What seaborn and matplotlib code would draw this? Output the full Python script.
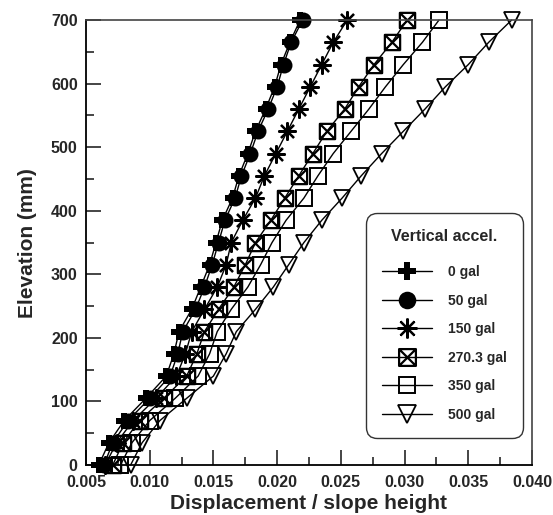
import numpy as np
import pandas as pd

import matplotlib
matplotlib.use('Agg')

from matplotlib import pyplot as plt
from matplotlib.path import Path
from matplotlib.ticker import MultipleLocator
import seaborn as sns

# elevation of each measuring point (mm)
elevation = [0, 35, 70, 105, 140, 175, 210, 245, 280, 315, 350,
             385, 420, 455, 490, 525, 560, 595, 630, 665, 700]

# displacement / slope height for each vertical acceleration
disp_0 = [0.0060, 0.0068, 0.0080, 0.0097, 0.0113, 0.0119, 0.0123, 0.0133, 0.0140, 0.0147, 0.0152,
          0.0157, 0.0165, 0.0170, 0.0177, 0.0183, 0.0191, 0.0198, 0.0203, 0.0210, 0.0218]
disp_50 = [0.0064, 0.0071, 0.0083, 0.0100, 0.0116, 0.0122, 0.0126, 0.0136, 0.0143, 0.0149, 0.0154,
           0.0159, 0.0167, 0.0172, 0.0179, 0.0185, 0.0193, 0.0200, 0.0205, 0.0211, 0.0220]
disp_150 = [0.0065, 0.0074, 0.0087, 0.0105, 0.0121, 0.0128, 0.0133, 0.0143, 0.0153, 0.0160, 0.0164,
            0.0173, 0.0183, 0.0190, 0.0199, 0.0208, 0.0217, 0.0226, 0.0235, 0.0244, 0.0255]
disp_270 = [0.0071, 0.0079, 0.0092, 0.0111, 0.0129, 0.0137, 0.0143, 0.0154, 0.0166, 0.0175, 0.0183,
            0.0195, 0.0206, 0.0217, 0.0228, 0.0239, 0.0253, 0.0264, 0.0276, 0.0290, 0.0302]
disp_350 = [0.0077, 0.0086, 0.0100, 0.0120, 0.0138, 0.0147, 0.0153, 0.0164, 0.0177, 0.0187, 0.0196,
            0.0207, 0.0221, 0.0232, 0.0244, 0.0258, 0.0272, 0.0285, 0.0299, 0.0314, 0.0327]
disp_500 = [0.0085, 0.0094, 0.0108, 0.0129, 0.0150, 0.0160, 0.0168, 0.0183, 0.0197, 0.0209, 0.0221,
            0.0235, 0.0251, 0.0266, 0.0282, 0.0299, 0.0316, 0.0332, 0.0350, 0.0366, 0.0384]

labels = ['0 gal', '50 gal', '150 gal', '270.3 gal', '350 gal', '500 gal']

#==============================================================================

# square with a cross inside
box_x = Path([(-1, -1), (1, -1), (1, 1), (-1, 1), (-1, -1),
              (-1, -1), (1, 1), (-1, 1), (1, -1)],
             [Path.MOVETO, Path.LINETO, Path.LINETO, Path.LINETO, Path.CLOSEPOLY,
              Path.MOVETO, Path.LINETO, Path.MOVETO, Path.LINETO])

styles = [
    dict(marker='P', markersize=12, markerfacecolor='black', markeredgewidth=0),
    dict(marker='o', markersize=11.5, markerfacecolor='black', markeredgewidth=0),
    dict(marker=(8, 2, 0), markersize=13, markeredgewidth=1.6),
    dict(marker=box_x, markersize=11, markerfacecolor='none', markeredgewidth=1.6),
    dict(marker='s', markersize=11, markerfacecolor='none', markeredgewidth=1.4),
    dict(marker='v', markersize=11.5, markerfacecolor='none', markeredgewidth=1.3),
]

sns.set_style('ticks')
plt.rcParams['font.family'] = ['Liberation Sans', 'DejaVu Sans']
plt.rcParams['font.weight'] = 'bold'

fig = plt.figure(figsize=(5.53, 5.15), dpi=100)
ax = fig.add_axes([0.1555, 0.097, 0.8065, 0.864])

all_disp = [disp_0, disp_50, disp_150, disp_270, disp_350, disp_500]
for disp, label, st in zip(all_disp, labels, styles):
    df = pd.DataFrame({'disp': disp, 'elev': elevation})
    sns.lineplot(data=df, x='disp', y='elev', ax=ax, sort=False, estimator=None,
                 color='black', linewidth=1.0, markeredgecolor='black',
                 label=label, clip_on=False, **st)

ax.set_xlim(0.005, 0.040)
ax.set_ylim(0, 700)
ax.xaxis.set_major_locator(MultipleLocator(0.005))
ax.xaxis.set_minor_locator(MultipleLocator(0.0025))
ax.yaxis.set_major_locator(MultipleLocator(100))
ax.yaxis.set_minor_locator(MultipleLocator(50))
ax.set_xticklabels(['%.3f' % v for v in ax.get_xticks()])

ax.tick_params(which='major', direction='in', length=11, width=1.2,
               labelsize=11.5, pad=7)
ax.tick_params(which='minor', direction='in', length=6, width=1.2)
ax.tick_params(axis='y', pad=6)
for lab in ax.get_xticklabels() + ax.get_yticklabels():
    lab.set_fontweight('bold')

for side in ['left', 'bottom']:
    ax.spines[side].set_linewidth(1.3)
    ax.spines[side].set_color('black')
for side in ['top', 'right']:
    ax.spines[side].set_linewidth(1.2)
    ax.spines[side].set_color('#444444')
    ax.spines[side].set_visible(True)

ax.set_xlabel('Displacement / slope height', fontsize=15, fontweight='bold', labelpad=3)
ax.set_ylabel('Elevation (mm)', fontsize=15, fontweight='bold', labelpad=10)

leg = ax.legend(loc='lower right', bbox_to_anchor=(0.98, 0.061),
                title='Vertical accel.',
                title_fontproperties={'weight': 'bold', 'size': 11.5},
                prop={'weight': 'bold', 'size': 10},
                handlelength=3.6, handletextpad=1.2, labelspacing=1.05,
                markerscale=1.1,
                borderpad=1.15, borderaxespad=0, fancybox=True, frameon=True)
frame = leg.get_frame()
frame.set_edgecolor('black')
frame.set_linewidth(1.0)
frame.set_boxstyle('round,pad=0,rounding_size=0.8')
leg._legend_box.sep = 15

fig.savefig('out.png', dpi=100)
